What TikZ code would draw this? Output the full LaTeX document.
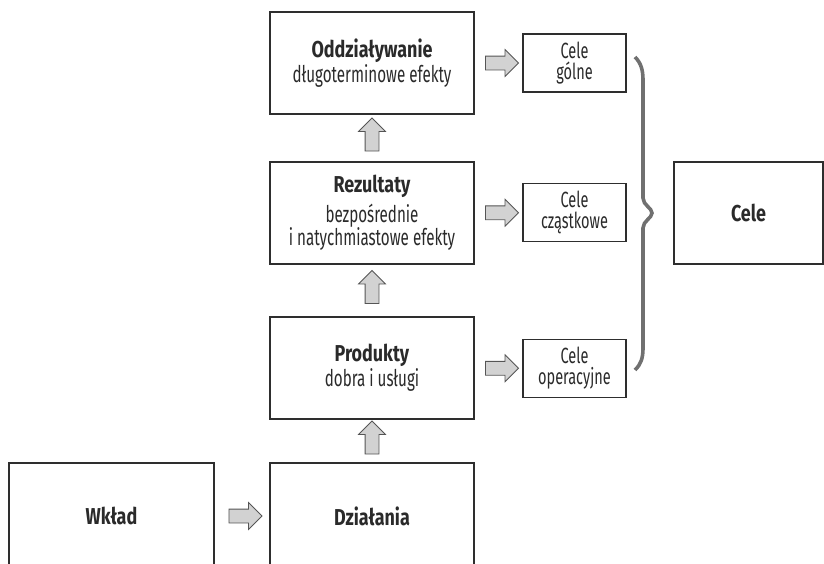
\documentclass[tikz,border=0pt]{standalone}
\usepackage{fontspec}
\setmainfont{Fira Sans}[FakeStretch=0.66,BoldFeatures={FakeStretch=0.78}]
\usetikzlibrary{shapes.arrows,calc}
\definecolor{boxline}{HTML}{2E2E2E}
\definecolor{txt}{HTML}{2A2A2A}
\definecolor{arrowfill}{HTML}{D2D2D2}
\definecolor{arrowline}{HTML}{555555}
\definecolor{bracegray}{HTML}{707070}
\begin{document}
\begin{tikzpicture}[x=1pt,y=-1pt,
  bigbox/.style={draw=boxline,line width=1.3pt,minimum width=204pt,minimum height=102pt,
    inner sep=0pt,align=center,text=txt,font=\fontsize{23}{21}\selectfont},
  smallbox/.style={draw=boxline,line width=1.2pt,minimum width=103pt,minimum height=58pt,
    inner sep=0pt,align=center,text=txt,font=\fontsize{22}{21}\selectfont},
  blockarrow/.style={single arrow,draw=arrowline,fill=arrowfill,line width=0.8pt,
    minimum height=33pt,single arrow head extend=6.5pt,
    inner sep=0pt,single arrow tip angle=90}
]
\path[use as bounding box] (0,0) rectangle (824,563);

% main chain of boxes
\node[bigbox] (odd) at (372,63) {\textbf{Oddziaływanie}\\[1pt]długoterminowe efekty};
\node[bigbox] (rez) at (372,213) {\textbf{Rezultaty}\\[5pt]bezpośrednie\\i natychmiastowe efekty};
\node[bigbox] (prod) at (372,368) {\textbf{Produkty}\\[1pt]dobra i usługi};
\node[bigbox,minimum height=106pt] (dzi) at (372,516) {\textbf{Działania}};
\node[bigbox,minimum width=205pt,minimum height=106pt] (wk) at (111.5,516) {\textbf{Wkład}};

% goals
\node[smallbox] (cg) at (574.5,63) {Cele\\gólne};
\node[smallbox] (cc) at (574.5,212.5) {Cele\\cząstkowe};
\node[smallbox] (co) at (574.5,368.5) {Cele\\operacyjne};
\node[bigbox,minimum width=149pt] (cele) at (748.5,213) {\textbf{Cele}};

% block arrows (the rule sets the shaft width)
\newcommand{\shaft}{\rule{0pt}{13pt}}
\node[blockarrow,rotate=90] (a1) at ($(dzi.north)!0.5!(prod.south)$) {\shaft};
\node[blockarrow,rotate=90] (a2) at ($(prod.north)!0.5!(rez.south)$) {\shaft};
\node[blockarrow,rotate=90] (a3) at ($(rez.north)!0.5!(odd.south)$) {\shaft};
\node[blockarrow] (a4) at ($(wk.east)!0.5!(dzi.west)$) {\shaft};
\node[blockarrow] (a5) at ($(odd.east)!0.5!(cg.west)$) {\shaft};
\node[blockarrow] (a6) at ($(rez.east)!0.5!(cc.west)$) {\shaft};
\node[blockarrow] (a7) at ($(prod.east)!0.5!(co.west)$) {\shaft};

% curly brace grouping the goals
\draw[bracegray,line width=3.6pt]
  (635,57) .. controls (641,63) and (643,70) .. (643,80)
  -- (643,198) .. controls (643,205) and (652,208) .. (652,213)
  .. controls (652,218) and (643,221) .. (643,228)
  -- (643,348) .. controls (643,358) and (641,364) .. (635,370);
\end{tikzpicture}
\end{document}
